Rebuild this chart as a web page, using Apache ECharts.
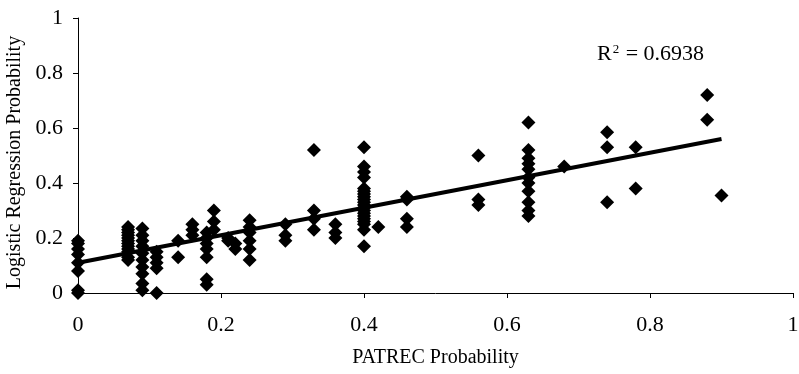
<!DOCTYPE html>
<html><head><meta charset="utf-8">
<script src="https://cdn.jsdelivr.net/npm/echarts@6/dist/echarts.min.js"></script>
<style>html,body{margin:0;padding:0;background:#fff}#c{width:799px;height:374px}</style>
</head><body><div id="c"></div>
<script>
const xTicks = [0, 0.2, 0.4, 0.6, 0.8, 1];
const yTicks = [0, 0.2, 0.4, 0.6, 0.8, 1];
const xCols = [0, 0.07, 0.09, 0.11, 0.14, 0.16, 0.18, 0.19, 0.21, 0.22, 0.24, 0.29, 0.33, 0.36, 0.40, 0.42, 0.46, 0.56, 0.63, 0.68, 0.74, 0.78, 0.88, 0.90];
const yCols = [
  [0.19, 0.18, 0.16, 0.14, 0.11, 0.08, 0.01, 0.0],
  [0.24, 0.23, 0.22, 0.21, 0.2, 0.19, 0.18, 0.17, 0.16, 0.15, 0.13, 0.12],
  [0.235, 0.21, 0.19, 0.17, 0.145, 0.12, 0.095, 0.07, 0.035, 0.01],
  [0.15, 0.13, 0.11, 0.09, 0.0],
  [0.19, 0.13],
  [0.25, 0.23, 0.21],
  [0.22, 0.2, 0.18, 0.16, 0.13, 0.05, 0.03],
  [0.3, 0.26, 0.23],
  [0.2, 0.19],
  [0.18, 0.16],
  [0.265, 0.24, 0.22, 0.19, 0.16, 0.12],
  [0.25, 0.21, 0.19],
  [0.52, 0.3, 0.27, 0.23],
  [0.25, 0.22, 0.2],
  [0.53, 0.46, 0.44, 0.42, 0.38, 0.37, 0.36, 0.35, 0.34, 0.33, 0.32, 0.31, 0.3, 0.29, 0.28, 0.27, 0.26, 0.25, 0.23, 0.17],
  [0.24],
  [0.35, 0.34, 0.27, 0.24],
  [0.5, 0.34, 0.32],
  [0.62, 0.52, 0.49, 0.47, 0.45, 0.42, 0.4, 0.37, 0.33, 0.3, 0.28],
  [0.46],
  [0.585, 0.53, 0.33],
  [0.53, 0.38],
  [0.72, 0.63],
  [0.355]
];
const trendIntercept = 0.11;
const trendSlope = 0.5;
const trendRange = [0, 0.9];
const rSquaredValue = '0.6938';

const points = [];
xCols.forEach((x, i) => yCols[i].forEach(y => points.push([x, y])));
const trend = trendRange.map(x => [x, trendIntercept + trendSlope * x]);

const font = 'Liberation Serif';
const chart = echarts.init(document.getElementById('c'));
chart.setOption({
  animation: false,
  grid: {left: 78, right: 6, top: 18, bottom: 81, containLabel: false, outerBoundsMode: 'none'},
  xAxis: {
    type: 'value', min: 0, max: 1, interval: 0.2,
    name: 'PATREC Probability', nameLocation: 'middle', nameGap: 55,
    nameTextStyle: {fontFamily: font, fontSize: 20, color: '#000'},
    axisLine: {lineStyle: {color: '#000', width: 1}},
    axisTick: {show: true, inside: false, length: 5, lineStyle: {color: '#000'}},
    axisLabel: {fontFamily: font, fontSize: 22, color: '#000', margin: 21,
      formatter: v => xTicks.includes(+v.toFixed(1)) ? String(+v.toFixed(1)) : ''},
    splitLine: {show: false}
  },
  yAxis: {
    type: 'value', min: 0, max: 1, interval: 0.2,
    name: 'Logistic Regression Probability', nameLocation: 'middle', nameGap: 47,
    nameTextStyle: {fontFamily: font, fontSize: 20, color: '#000', padding: [0, 14, 0, 0]},
    axisLine: {show: true, lineStyle: {color: '#000', width: 1}},
    axisTick: {show: true, length: 5, lineStyle: {color: '#000'}},
    axisLabel: {fontFamily: font, fontSize: 22, color: '#000', margin: 15,
      formatter: v => yTicks.includes(+v.toFixed(1)) ? String(+v.toFixed(1)) : ''},
    splitLine: {show: false}
  },
  series: [
    {type: 'scatter', data: points, symbol: 'diamond', symbolSize: 14,
     itemStyle: {color: '#000', opacity: 1}, z: 2},
    {type: 'line', data: trend, symbol: 'none', lineStyle: {color: '#000', width: 4}, z: 3}
  ],
  graphic: [{type: 'text', left: 597, top: 43,
    style: {text: '{a|R}{s|2}{a| = ' + rSquaredValue + '}',
      rich: {a: {fontFamily: font, fontSize: 22, color: '#000'},
             s: {fontFamily: font, fontSize: 13, color: '#000', verticalAlign: 'top', padding: [0, 1, 10, 1]}}}}]
});
</script></body></html>
